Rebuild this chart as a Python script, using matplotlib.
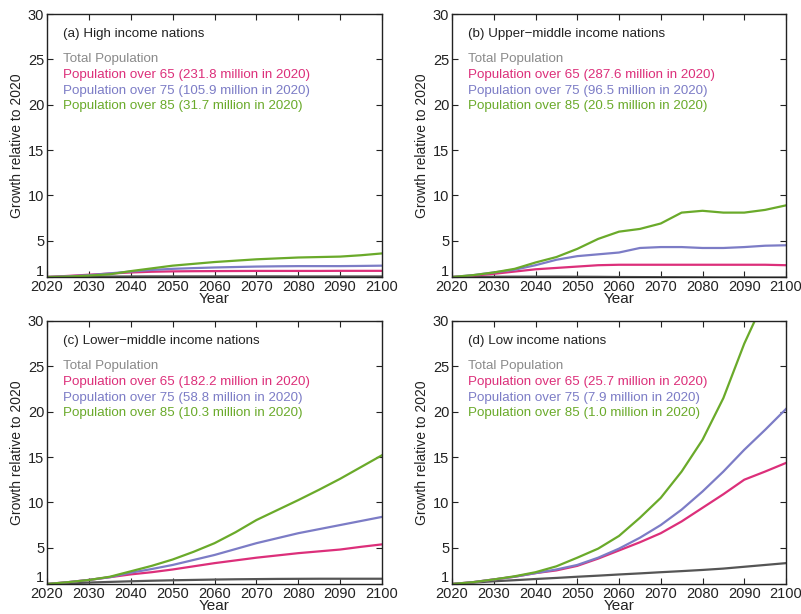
import matplotlib
matplotlib.use("Agg")
import matplotlib.pyplot as plt
import matplotlib.transforms as mtransforms
import numpy as np

plt.rcParams['font.family'] = ['Liberation Sans', 'DejaVu Sans']

years = np.arange(2020, 2101, 5)

# (a) High income nations
high_total = [1.0, 1.02, 1.04, 1.05, 1.06, 1.07, 1.07, 1.07, 1.07, 1.07, 1.07, 1.07, 1.06, 1.06, 1.06, 1.06, 1.06]
high_65 = [1.0, 1.12, 1.25, 1.38, 1.5, 1.58, 1.62, 1.64, 1.65, 1.66, 1.67, 1.67, 1.67, 1.67, 1.68, 1.68, 1.68]
high_75 = [1.0, 1.08, 1.2, 1.4, 1.6, 1.78, 1.9, 1.98, 2.05, 2.1, 2.15, 2.18, 2.2, 2.2, 2.2, 2.22, 2.25]
high_85 = [1.0, 1.05, 1.15, 1.3, 1.65, 1.95, 2.25, 2.45, 2.65, 2.8, 2.95, 3.05, 3.15, 3.2, 3.25, 3.4, 3.6]

# (b) Upper-middle income nations
upmid_total = [1.0, 1.02, 1.03, 1.04, 1.04, 1.04, 1.03, 1.02, 1.0, 0.99, 0.98, 0.97, 0.96, 0.95, 0.95, 0.94, 0.94]
upmid_65 = [1.0, 1.15, 1.35, 1.6, 1.85, 2.0, 2.15, 2.3, 2.35, 2.35, 2.35, 2.35, 2.35, 2.35, 2.35, 2.35, 2.3]
upmid_75 = [1.0, 1.2, 1.5, 1.8, 2.3, 2.9, 3.3, 3.5, 3.7, 4.2, 4.3, 4.3, 4.2, 4.2, 4.3, 4.45, 4.5]
upmid_85 = [1.0, 1.2, 1.5, 1.9, 2.6, 3.2, 4.1, 5.2, 6.0, 6.3, 6.9, 8.1, 8.3, 8.1, 8.1, 8.4, 8.9]

# (c) Lower-middle income nations
lowmid_total = [1.0, 1.08, 1.16, 1.23, 1.3, 1.36, 1.41, 1.45, 1.49, 1.52, 1.54, 1.56, 1.57, 1.58, 1.58, 1.58, 1.58]
lowmid_65 = [1.0, 1.2, 1.45, 1.75, 2.06, 2.3, 2.6, 2.95, 3.3, 3.6, 3.9, 4.15, 4.4, 4.6, 4.8, 5.1, 5.37]
lowmid_75 = [1.0, 1.2, 1.45, 1.75, 2.25, 2.65, 3.1, 3.65, 4.2, 4.85, 5.5, 6.05, 6.6, 7.05, 7.5, 7.95, 8.4]
lowmid_85 = [1.0, 1.2, 1.44, 1.8, 2.4, 3.0, 3.7, 4.55, 5.5, 6.7, 8.05, 9.15, 10.25, 11.4, 12.6, 13.9, 15.2]

# (d) Low income nations
low_total = [1.0, 1.15, 1.3, 1.42, 1.55, 1.67, 1.8, 1.92, 2.05, 2.17, 2.3, 2.42, 2.55, 2.7, 2.9, 3.1, 3.3]
low_65 = [1.0, 1.2, 1.5, 1.8, 2.2, 2.5, 3.0, 3.8, 4.7, 5.6, 6.6, 7.9, 9.4, 10.9, 12.5, 13.4, 14.35]
low_75 = [1.0, 1.2, 1.5, 1.8, 2.2, 2.6, 3.1, 3.9, 4.9, 6.1, 7.5, 9.2, 11.2, 13.4, 15.8, 18.0, 20.3]
low_85 = [1.0, 1.2, 1.5, 1.85, 2.3, 2.95, 3.9, 4.9, 6.3, 8.3, 10.5, 13.4, 16.9, 21.5, 27.5, 32.5, 38.0]

panels = [
    ("(a) High income nations", ["231.8", "105.9", "31.7"], [high_total, high_65, high_75, high_85]),
    ("(b) Upper\u2212middle income nations", ["287.6", "96.5", "20.5"], [upmid_total, upmid_65, upmid_75, upmid_85]),
    ("(c) Lower\u2212middle income nations", ["182.2", "58.8", "10.3"], [lowmid_total, lowmid_65, lowmid_75, lowmid_85]),
    ("(d) Low income nations", ["25.7", "7.9", "1.0"], [low_total, low_65, low_75, low_85]),
]

line_colors = ["#555555", "#dc2f7a", "#7c7cc6", "#6aaa2a"]
text_colors = ["#8a8a8a", "#dc2f7a", "#7c7cc6", "#6aaa2a"]

fig = plt.figure(figsize=(8.01, 6.14), dpi=100)
W, H = 801, 614
boxes = [(47, 14, 335, 263), (452, 14, 334, 263), (47, 321, 335, 263), (452, 321, 334, 263)]

for (title, millions, series), (x0, y0, w, h) in zip(panels, boxes):
    ax = fig.add_axes([x0 / W, (H - y0 - h) / H, w / W, h / H])
    for vals, c in zip(series, line_colors):
        ax.plot(years, vals, color=c, lw=1.6)
    ax.set_xlim(2020, 2100)
    ax.set_ylim(1, 30)
    ax.set_xticks(np.arange(2020, 2101, 10))
    ax.set_yticks([1, 5, 10, 15, 20, 25, 30])
    ax.tick_params(direction='in', top=True, right=True, length=4, width=0.8,
                   labelsize=10.5, pad=2, colors='#222222')
    for sp in ax.spines.values():
        sp.set_linewidth(1.0)
        sp.set_color('#222222')
    ax.set_xlabel("Year", fontsize=11, labelpad=-1, color='#222222')
    ax.set_ylabel("Growth relative to 2020", fontsize=10, labelpad=3, color='#222222')

    # lift the "1" label so it sits above the 2020 label
    lab1 = ax.get_yticklabels()[0]
    lab1.set_transform(lab1.get_transform() + mtransforms.ScaledTranslation(0, 7 / 100, fig.dpi_scale_trans))

    ax.text(0.048, 0.924, title, transform=ax.transAxes, fontsize=9.6, color='#222222', va='center')
    labels = ["Total Population"] + [
        "Population over %s (%s million in 2020)" % (age, m) for age, m in zip(["65", "75", "85"], millions)
    ]
    for i, (lab, c) in enumerate(zip(labels, text_colors)):
        ax.text(0.048, 0.829 - i * 0.06, lab, transform=ax.transAxes, fontsize=9.6, color=c, va='center')

fig.savefig("out.png", dpi=100)
